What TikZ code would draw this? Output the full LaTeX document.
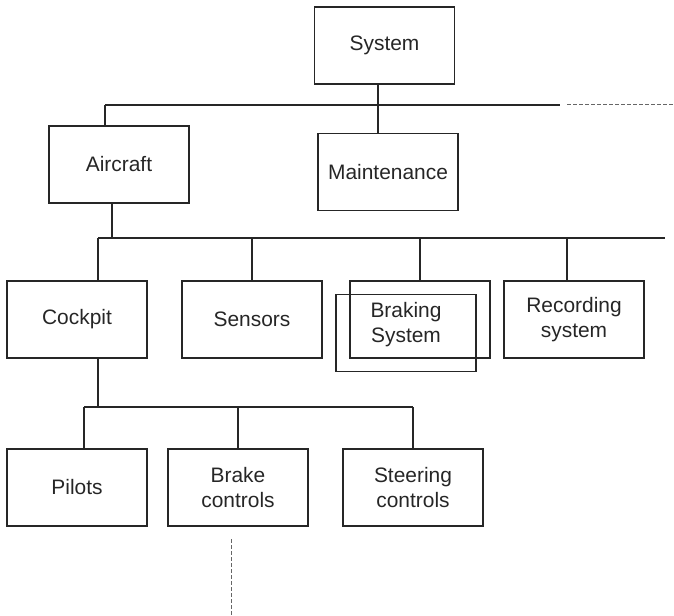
\documentclass[tikz,border=0pt]{standalone}
\usepackage{fontspec}
\setmainfont{Liberation Sans}
\begin{document}
\begin{tikzpicture}[x=1bp,y=-1bp,
  ink/.style={draw=black!85, line width=1.2bp},
  unit/.style={ink, minimum width=140bp, minimum height=77bp, inner sep=0pt,
    align=center, font=\fontsize{21}{25}\selectfont, text=black!85},
  bus/.style={ink},
  link/.style={ink},
  cont/.style={draw=black!60, line width=1bp, dash pattern=on 3.5bp off 2.5bp}]
\useasboundingbox (0,0) rectangle (674,616);

% units of the hierarchy
\node[unit] (system)   at (384.5,45.5) {System};
\node[unit] (aircraft) at (119,164.5)  {Aircraft};
\node[unit] (maint)    at (388,172)    {Maintenance};
\node[unit] (cockpit)  at (77,319.5)   {Cockpit};
\node[unit] (sensors)  at (252,319.5)  {Sensors};
\node[unit] (braking)  at (420,319.5)  {};
\node[unit] (brakingb) at (406,333)    {};
\node[font=\fontsize{21}{25}\selectfont, align=center, text=black!85, inner sep=0pt]
  (brakingtxt) at (406,325) {Braking\\System};
\node[unit] (recording) at (574,319.5) {Recording\\system};
\node[unit] (pilots)   at (77,487.5)   {Pilots};
\node[unit] (brakectl) at (238,487.5)  {Brake\\controls};
\node[unit] (steering) at (413,487.5)  {Steering\\controls};

% bus junctions
\coordinate (b1a) at (105,105);
\coordinate (b1m) at (378,105);
\coordinate (b1e) at (560,105);
\coordinate (b1d) at (567,105);
\coordinate (b1z) at (674,105);
\coordinate (b2s) at (112,238);
\coordinate (b2a) at (98,238);
\coordinate (b2b) at (252,238);
\coordinate (b2c) at (420,238);
\coordinate (b2d) at (567,238);
\coordinate (b2e) at (665,238);
\coordinate (b3s) at (98,407);
\coordinate (b3a) at (84,407);
\coordinate (b3b) at (238,407);
\coordinate (b3c) at (413,407);
\coordinate (c1)  at (231,539);
\coordinate (c2)  at (231,616);

% level 1
\draw[bus]  (b1a) -- (b1e);
\draw[cont] (b1d) -- (b1z);
\draw[link] (system.south -| b1m) -- (maint.north -| b1m);
\draw[link] (b1a) -- (aircraft.north -| b1a);

% level 2
\draw[link] (aircraft.south -| b2s) -- (b2s);
\draw[bus]  (b2a) -- (b2e);
\draw[link] (b2a) -- (cockpit.north -| b2a);
\draw[link] (b2b) -- (sensors.north -| b2b);
\draw[link] (b2c) -- (braking.north -| b2c);
\draw[link] (b2d) -- (recording.north -| b2d);

% level 3
\draw[link] (cockpit.south -| b3s) -- (b3s);
\draw[bus]  (b3a) -- (b3c);
\draw[link] (b3a) -- (pilots.north -| b3a);
\draw[link] (b3b) -- (brakectl.north -| b3b);
\draw[link] (b3c) -- (steering.north -| b3c);

% continuation below the brake controls
\draw[cont] (c1) -- (c2);
\end{tikzpicture}
\end{document}
